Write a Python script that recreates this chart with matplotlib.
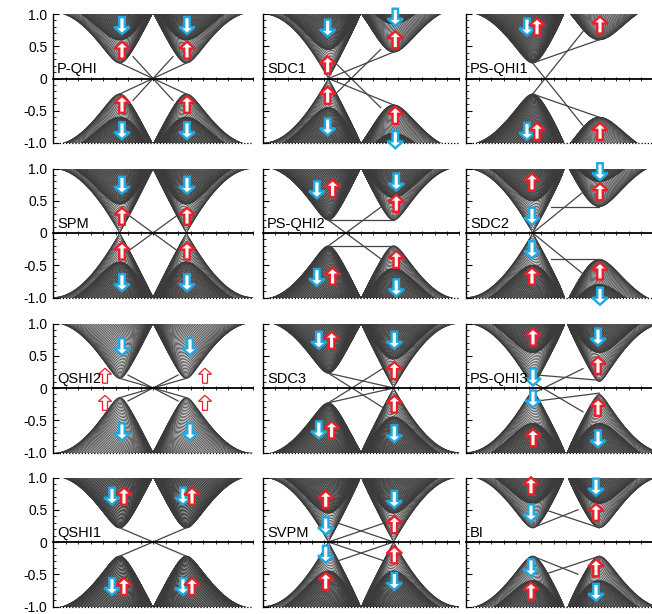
import numpy as np
import matplotlib
matplotlib.use('Agg')
import matplotlib.pyplot as plt
import matplotlib.transforms as mtransforms
from matplotlib.patches import Polygon
from matplotlib.collections import LineCollection

plt.rcParams['font.family'] = ['Liberation Sans', 'DejaVu Sans']

# ---------------- data (k in units of pi, energies in units of t) ----------------
panel_names = ['P-QHI', 'SDC1', 'PS-QHI1',
               'SPM', 'PS-QHI2', 'SDC2',
               'QSHI2', 'SDC3', 'PS-QHI3',
               'QSHI1', 'SVPM', 'BI']

# band-edge gaps read at the two valleys (K at 2/3, K' at 4/3) for each spin
gap_K_up  = [0.24, 0.00, 0.24, 0.00, 0.20, 0.50, 1.30, 0.23, 0.55, 0.22, 0.45, 0.60]
gap_K_dn  = [0.60, 0.45, 0.26, 0.45, 0.22, 0.00, 0.15, 0.25, 0.05, 0.22, 0.00, 0.22]
gap_Kp_up = [0.24, 0.41, 0.60, 0.00, 0.20, 0.41, 1.30, 0.00, 0.10, 0.22, 0.00, 0.22]
gap_Kp_dn = [0.60, 0.85, 1.30, 0.45, 0.55, 0.80, 0.15, 0.45, 0.55, 0.22, 0.45, 0.60]

# spin arrows: (k, E, spin)  'u' = up (red), 'd' = down (cyan), 'U' = hollow big up
spin_arrows = [
    [(0.69, 0.82, 'd'), (0.69, 0.44, 'u'), (0.69, -0.40, 'u'), (0.69, -0.81, 'd'),
     (1.34, 0.82, 'd'), (1.34, 0.44, 'u'), (1.34, -0.40, 'u'), (1.34, -0.81, 'd')],
    [(0.66, 0.78, 'd'), (0.66, 0.21, 'u'), (0.66, -0.26, 'u'), (0.66, -0.75, 'd'),
     (1.35, 0.95, 'd'), (1.35, 0.60, 'u'), (1.35, -0.57, 'u'), (1.35, -0.95, 'd')],
    [(0.61, 0.80, 'd'), (0.71, 0.80, 'u'), (0.61, -0.82, 'd'), (0.71, -0.82, 'u'),
     (1.34, 0.83, 'u'), (1.34, -0.82, 'u')],
    [(0.69, 0.74, 'd'), (0.69, 0.26, 'u'), (0.69, -0.28, 'u'), (0.69, -0.77, 'd'),
     (1.34, 0.74, 'd'), (1.34, 0.26, 'u'), (1.34, -0.28, 'u'), (1.34, -0.77, 'd')],
    [(0.55, 0.67, 'd'), (0.71, 0.69, 'u'), (0.55, -0.69, 'd'), (0.71, -0.67, 'u'),
     (1.36, 0.79, 'd'), (1.36, 0.46, 'u'), (1.36, -0.41, 'u'), (1.36, -0.85, 'd')],
    [(0.66, 0.79, 'u'), (0.66, 0.26, 'd'), (0.66, -0.26, 'd'), (0.66, -0.67, 'u'),
     (1.34, 0.95, 'd'), (1.34, 0.64, 'u'), (1.34, -0.59, 'u'), (1.34, -0.98, 'd')],
    [(0.69, 0.64, 'd'), (0.69, -0.68, 'd'), (1.37, 0.64, 'd'), (1.37, -0.68, 'd'),
     (0.52, 0.19, 'U'), (0.52, -0.23, 'U'), (1.52, 0.19, 'U'), (1.52, -0.23, 'U')],
    [(0.57, 0.74, 'd'), (0.70, 0.74, 'u'), (0.57, -0.65, 'd'), (0.70, -0.65, 'u'),
     (1.34, 0.74, 'd'), (1.34, 0.27, 'u'), (1.34, -0.25, 'u'), (1.34, -0.71, 'd')],
    [(0.67, 0.79, 'u'), (0.67, 0.17, 'd'), (0.67, -0.17, 'd'), (0.67, -0.77, 'u'),
     (1.32, 0.79, 'd'), (1.32, 0.35, 'u'), (1.32, -0.30, 'u'), (1.32, -0.79, 'd')],
    [(0.59, 0.71, 'd'), (0.71, 0.71, 'u'), (0.59, -0.69, 'd'), (0.71, -0.69, 'u'),
     (1.30, 0.71, 'd'), (1.39, 0.71, 'u'), (1.30, -0.69, 'd'), (1.39, -0.69, 'u')],
    [(0.64, 0.66, 'u'), (0.64, 0.25, 'd'), (0.64, -0.19, 'd'), (0.64, -0.61, 'u'),
     (1.34, 0.66, 'd'), (1.34, 0.27, 'u'), (1.34, -0.20, 'u'), (1.34, -0.61, 'd')],
    [(0.65, 0.87, 'u'), (0.65, 0.45, 'd'), (0.65, -0.40, 'd'), (0.65, -0.76, 'u'),
     (1.30, 0.85, 'd'), (1.30, 0.46, 'u'), (1.30, -0.40, 'u'), (1.30, -0.78, 'd')],
]

# in-gap edge states: polylines of (k, E)
edge_lines = [
    [[(0.667, 0.24), (1.333, -0.24)], [(0.667, -0.24), (1.333, 0.24)],
     [(0.80, 0.34), (1.20, -0.34)], [(0.80, -0.34), (1.20, 0.34)]],
    [[(0.667, 0.0), (1.333, 0.41)], [(0.667, 0.0), (1.333, -0.41)],
     [(0.72, -0.27), (1.20, 0.45)], [(0.72, 0.27), (1.20, -0.45)]],
    [[(0.667, 0.24), (1.333, 0.60)], [(0.667, -0.24), (1.17, 0.73)],
     [(0.667, 0.24), (1.17, -0.73)], [(0.667, -0.24), (1.333, -0.60)]],
    [[(0.77, 0.26), (1.23, -0.26)], [(0.77, -0.26), (1.23, 0.26)]],
    [[(0.667, 0.20), (1.333, 0.20)], [(0.667, -0.20), (1.333, -0.20)],
     [(0.667, 0.20), (1.22, -0.42)], [(0.667, -0.20), (1.22, 0.42)]],
    [[(0.85, 0.41), (1.333, 0.41)], [(0.85, -0.41), (1.333, -0.41)],
     [(0.667, 0.0), (1.16, 0.62)], [(0.667, 0.0), (1.16, -0.62)]],
    [[(0.667, 0.15), (1.333, -0.15)], [(0.667, -0.15), (1.333, 0.15)],
     [(0.75, 0.20), (1.25, -0.20)], [(0.75, -0.20), (1.25, 0.20)]],
    [[(0.667, 0.23), (1.333, 0.0)], [(0.667, -0.23), (1.333, 0.0)],
     [(0.667, 0.23), (1.22, -0.30)], [(0.667, -0.23), (1.22, 0.30)]],
    [[(0.72, 0.20), (1.333, 0.12)], [(0.70, 0.06), (1.17, -0.37)],
     [(0.72, -0.20), (1.333, -0.08)], [(0.70, -0.06), (1.17, 0.30)]],
    [[(0.667, 0.22), (1.333, -0.22)], [(0.667, -0.22), (1.333, 0.22)]],
    [[(0.75, 0.30), (1.333, 0.0)], [(0.667, 0.0), (1.25, 0.30)],
     [(0.667, 0.0), (1.25, -0.30)], [(0.75, -0.30), (1.333, 0.0)]],
    [[(0.667, 0.22), (1.12, 0.50)], [(0.79, 0.50), (1.333, 0.22)],
     [(0.667, -0.22), (1.12, -0.50)], [(0.79, -0.50), (1.333, -0.22)]],
]

ytick_vals = [1.0, 0.5, 0.0, -0.5, -1.0]
ytick_text = ['1.0', '0.5', '0', '-0.5', '-1.0']

# ---------------- layout (pixels) ----------------
W, H = 652, 614
col_left = [53, 263, 466]
col_width = [200, 196, 200]
row_top = [14, 168.5, 323.5, 477.5]
row_h = 129

BAND_C = '#3b3b3b'
RED = '#e8202c'
CYAN = '#1fa9e1'
NQ = 120

fig = plt.figure(figsize=(W / 100, H / 100), dpi=100)


def bulk(ax, gKu, gKd, gKpu, gKpd):
    k = np.linspace(0, 2, 700)
    q = np.linspace(0, np.pi, NQ)
    eps = np.abs(1 + 2 * np.cos(np.pi * k / 2)[:, None] * np.exp(1j * q)[None, :])
    w = 1.0 / (1.0 + np.exp(-(k - 1.0) / 0.04))
    segs = []
    for gK, gKp in [(gKu, gKpu), (gKd, gKpd)]:
        m = gK * (1 - w) + gKp * w
        E = np.sqrt(eps ** 2 + m[:, None] ** 2)
        for j in range(NQ):
            e = np.clip(E[:, j], None, 1.6)
            segs.append(np.column_stack([k, e]))
            segs.append(np.column_stack([k, -e]))
    lc = LineCollection(segs, colors=BAND_C, linewidths=0.55, zorder=1)
    ax.add_collection(lc)


def spin_arrow(ax, k, E, kind):
    if kind == 'U':
        L, hw, hl, sw, lw = 15, 13, 6, 5, 0.9
    else:
        L, hw, hl, sw, lw = 17, 15.5, 7, 5.5, 1.7
    up = kind in ('u', 'U')
    color = RED if up else CYAN
    v = np.array([(-sw / 2, -L / 2), (sw / 2, -L / 2), (sw / 2, L / 2 - hl), (hw / 2, L / 2 - hl),
                  (0, L / 2), (-hw / 2, L / 2 - hl), (-sw / 2, L / 2 - hl)]) / 100.0
    if not up:
        v[:, 1] *= -1
    trans = fig.dpi_scale_trans + mtransforms.ScaledTranslation(k, E, ax.transData)
    p = Polygon(v, closed=True, transform=trans, facecolor='white', edgecolor=color,
                linewidth=lw, clip_on=False, zorder=6, joinstyle='miter')
    ax.add_patch(p)


for idx in range(12):
    r, c = divmod(idx, 3)
    left = col_left[c] / W
    bottom = (H - row_top[r] - row_h) / H
    ax = fig.add_axes([left, bottom, col_width[c] / W, row_h / H])
    ax.set_xlim(0, 2)
    ax.set_ylim(-1, 1)
    bulk(ax, gap_K_up[idx], gap_K_dn[idx], gap_Kp_up[idx], gap_Kp_dn[idx])
    for line in edge_lines[idx]:
        xs, ys = zip(*line)
        ax.plot(xs, ys, color='#444444', lw=0.9, zorder=3)
    for (k, E, s) in spin_arrows[idx]:
        spin_arrow(ax, k, E, s)

    ax.spines['top'].set_visible(False)
    ax.spines['right'].set_visible(False)
    ax.spines['bottom'].set_position(('data', 0))
    ax.spines['bottom'].set_linewidth(1.3)
    ax.spines['bottom'].set_zorder(4)
    ax.spines['left'].set_linewidth(1.0)
    ax.axhline(-1, color='k', lw=0.9, ls=(0, (1, 1.5)), zorder=4, clip_on=False)
    ax.set_xticks([])
    ax.set_xticks(np.arange(0.0, 2.01, 0.125), minor=True)
    ax.tick_params(axis='x', which='minor', direction='inout', length=3, width=0.6,
                   labelbottom=False)
    ax.set_yticks(ytick_vals)
    ax.set_yticks(np.arange(-1, 1.01, 0.1), minor=True)
    ax.tick_params(axis='y', which='major', direction='in', length=4, width=0.8, pad=4,
                   labelsize=10)
    ax.tick_params(axis='y', which='minor', direction='in', length=2, width=0.6)
    if c == 0:
        ax.set_yticklabels(ytick_text)
    else:
        ax.set_yticklabels([])
    ax.text(0.04, 0.035, panel_names[idx], fontsize=10.5, ha='left', va='bottom', zorder=7)

fig.savefig('out.png', dpi=100)
